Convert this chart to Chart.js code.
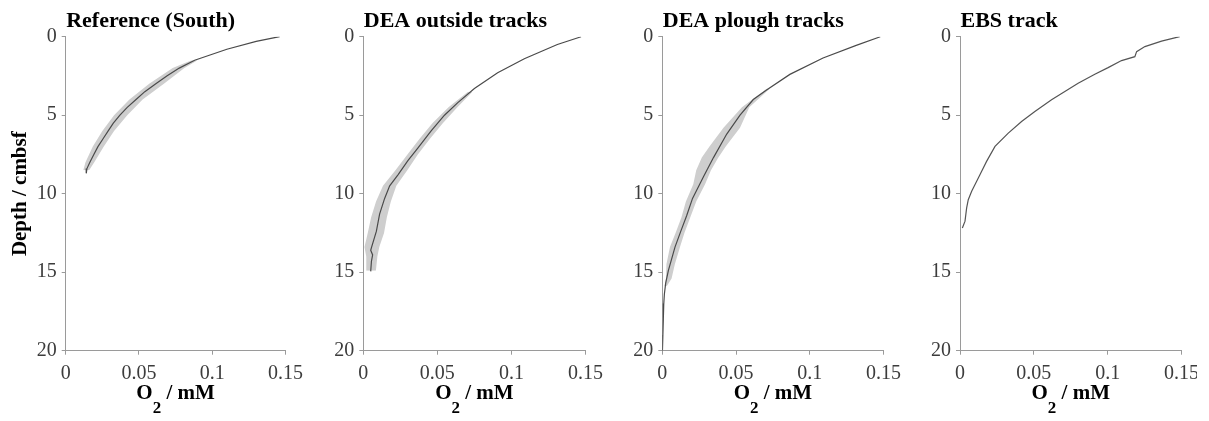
<!DOCTYPE html>
<html>
<head>
<meta charset="utf-8">
<script src="https://cdn.jsdelivr.net/npm/chart.js@4.4.1/dist/chart.umd.min.js"></script>
<style>
  html, body { margin: 0; padding: 0; background: #fff; }
  body { width: 1209px; height: 421px; position: relative; overflow: hidden; }
  .wrap { position: absolute; top: 0; height: 421px; overflow: hidden; }
  canvas { display: block; }
</style>
</head>
<body>
<div class="wrap" style="left:0px;width:310px"><canvas id="c1" width="310" height="421"></canvas></div>
<div class="wrap" style="left:300px;width:310px"><canvas id="c2" width="310" height="421"></canvas></div>
<div class="wrap" style="left:598px;width:310px"><canvas id="c3" width="310" height="421"></canvas></div>
<div class="wrap" style="left:896px;width:301px"><canvas id="c4" width="310" height="421"></canvas></div>
<script>
// ---------- DATA ----------
const panelTitles = ["Reference (South)", "DEA outside tracks", "DEA plough tracks", "EBS track"];
const xTickLabels = ["0", "0.05", "0.1", "0.15"];
const yTickLabels = ["0", "5", "10", "15", "20"];

// Reference (South)
const refDepth = [0, 0.3, 0.8, 1.5, 2.0, 2.5, 3.0, 3.5, 4.0, 4.5, 5.0, 5.5, 6.0, 6.5, 7.0, 7.5, 8.0, 8.4, 8.7];
const refO2    = [0.146, 0.130, 0.110, 0.088, 0.0775, 0.069, 0.0615, 0.054, 0.048, 0.042, 0.037, 0.0325, 0.029, 0.0255, 0.022, 0.0192, 0.0165, 0.0145, 0.014];
const refBandDepth = [1.5, 2.0, 3.0, 4.0, 5.0, 6.0, 7.0, 8.0, 8.5];
const refBandLo    = [0.086, 0.073, 0.057, 0.0435, 0.033, 0.025, 0.0185, 0.0135, 0.012];
const refBandHi    = [0.090, 0.081, 0.067, 0.0525, 0.042, 0.033, 0.026, 0.0195, 0.016];

// DEA outside tracks
const outDepth = [0, 0.5, 1.4, 2.3, 3.3, 4.2, 5.0, 6.0, 7.1, 7.9, 8.8, 9.5, 10.3, 11.3, 12.4, 13.4, 13.6, 13.9, 14.3, 14.95];
const outO2    = [0.147, 0.131, 0.1087, 0.0907, 0.075, 0.0638, 0.0548, 0.0458, 0.0368, 0.0301, 0.0234, 0.0178, 0.0144, 0.011, 0.0088, 0.0056, 0.005, 0.0063, 0.0055, 0.005];
const outBandDepth = [3.5, 4.5, 5.5, 6.5, 7.5, 8.5, 9.5, 10.5, 11.5, 12.5, 13.4, 14.0, 14.9];
const outBandLo    = [0.0707, 0.0575, 0.0468, 0.038, 0.0298, 0.0217, 0.0133, 0.0086, 0.0053, 0.003, 0.0008, 0.002, 0.002];
const outBandHi    = [0.0737, 0.0635, 0.0538, 0.045, 0.0368, 0.0297, 0.0223, 0.0186, 0.0159, 0.014, 0.0108, 0.0095, 0.0085];

// DEA plough tracks
const plDepth = [0, 0.55, 1.36, 2.4, 3.4, 4.0, 5.0, 6.2, 7.7, 8.9, 10.3, 11.4, 12.4, 13.4, 14.9, 15.7, 16.4, 17.0, 18.0, 19.0, 20.0];
const plO2    = [0.1478, 0.1315, 0.109, 0.0865, 0.0707, 0.0617, 0.0527, 0.0437, 0.0347, 0.028, 0.0205, 0.0165, 0.0125, 0.0086, 0.0041, 0.0023, 0.0014, 0.001, 0.0007, 0.0004, 0.0001];
const plBandDepth = [3.3, 4.5, 5.8, 7.0, 7.7, 8.5, 9.4, 10.5, 11.5, 12.5, 13.4, 14.5, 15.4, 15.9];
const plBandLo    = [0.071, 0.054, 0.0415, 0.032, 0.0268, 0.023, 0.021, 0.016, 0.013, 0.009, 0.0052, 0.0028, 0.0025, 0.0015];
const plBandHi    = [0.073, 0.059, 0.0527, 0.043, 0.038, 0.033, 0.029, 0.023, 0.019, 0.015, 0.012, 0.0085, 0.0063, 0.003];

// EBS track
const ebsDepth = [0, 0.28, 0.63, 0.95, 1.27, 1.52, 1.97, 2.39, 2.96, 3.49, 4.02, 4.76, 5.4, 6.14, 6.99, 7.94, 8.79, 9.85, 10.38, 10.9, 11.75, 12.18];
const ebsO2    = [0.1488, 0.1365, 0.1252, 0.1196, 0.1184, 0.1094, 0.1003, 0.0913, 0.08, 0.071, 0.062, 0.0507, 0.0417, 0.0327, 0.0237, 0.018, 0.0135, 0.0079, 0.0056, 0.0045, 0.0034, 0.0016];

// ---------- CHARTS ----------
const SERIF = "'Liberation Serif', 'Times New Roman', serif";
const pts = (d, v) => d.map((y, i) => ({ x: v[i], y: y }));

const textPlugin = {
  id: 'panelText',
  afterDraw(chart, args, opts) {
    const ctx = chart.ctx, a = chart.chartArea;
    ctx.save();
    ctx.fillStyle = '#000';
    ctx.textBaseline = 'alphabetic';
    ctx.textAlign = 'left';
    ctx.font = "bold 22px " + SERIF;
    ctx.fillText(opts.title, a.left + 0.5, 26.5);
    // x axis title: O2 / mM with subscript
    const big = "bold 21px " + SERIF, small = "bold 17px " + SERIF;
    ctx.font = big; const wO = ctx.measureText("O").width;
    ctx.font = small; const w2 = ctx.measureText("2").width;
    ctx.font = big; const wR = ctx.measureText(" / mM").width;
    const total = wO + w2 + wR;
    let x = (a.left + a.right) / 2 - total / 2;
    const base = 398.5;
    ctx.font = big; ctx.fillText("O", x, base); x += wO;
    ctx.font = small; ctx.fillText("2", x, base + 14.5); x += w2;
    ctx.font = big; ctx.fillText(" / mM", x, base);
    ctx.restore();
  }
};

function makePanel(id, title, yW, padR, mean, band, lineColor, showYTitle) {
  const datasets = [{
    data: mean,
    borderColor: lineColor,
    borderWidth: 1.2,
    pointRadius: 0,
    fill: false,
    tension: 0
  }];
  if (band) {
    datasets.push({
      data: band.lo, borderColor: 'rgba(0,0,0,0)', borderWidth: 0, pointRadius: 0, fill: false
    });
    datasets.push({
      data: band.hi, borderColor: 'rgba(0,0,0,0)', borderWidth: 0, pointRadius: 0,
      fill: 1, backgroundColor: '#cecece'
    });
  }
  const gridOpts = { display: true, drawOnChartArea: false, drawTicks: true, tickLength: 4, color: '#9a9a9a', lineWidth: 1 };
  return new Chart(document.getElementById(id), {
    type: 'line',
    data: { datasets },
    plugins: [textPlugin],
    options: {
      indexAxis: 'y',
      responsive: false,
      animation: false,
      devicePixelRatio: 1,
      layout: { padding: { left: 0, right: padR, top: 36.7, bottom: 30.3 } },
      plugins: {
        legend: { display: false },
        tooltip: { enabled: false },
        title: { display: false },
        panelText: { title: title }
      },
      scales: {
        x: {
          type: 'linear', position: 'bottom', min: 0, max: 0.15,
          afterFit(s) { s.height = 40; },
          afterBuildTicks(s) { s.ticks = xTickLabels.map(t => ({ value: parseFloat(t) })); },
          ticks: {
            autoSkip: false, maxRotation: 0, padding: 7, color: '#3c3c3c',
            font: { family: SERIF, size: 20 },
            callback: (v) => xTickLabels[Math.round(v / 0.05)]
          },
          grid: gridOpts,
          border: { display: true, color: '#9a9a9a', width: 1 }
        },
        y: {
          type: 'linear', position: 'left', min: 0, max: 20, reverse: true,
          afterFit(s) { s.width = yW; },
          afterBuildTicks(s) { s.ticks = yTickLabels.map(t => ({ value: parseFloat(t) })); },
          ticks: {
            autoSkip: false, padding: 5, color: '#3c3c3c',
            font: { family: SERIF, size: 20 },
            callback: (v) => yTickLabels[Math.round(v / 5)]
          },
          title: {
            display: showYTitle, text: 'Depth / cmbsf', color: '#000',
            font: { family: SERIF, size: 21, weight: 'bold' },
            padding: { top: 8.4, bottom: 0 }
          },
          grid: gridOpts,
          border: { display: true, color: '#9a9a9a', width: 1 }
        }
      }
    }
  });
}

makePanel('c1', panelTitles[0], 65.7, 22.7, pts(refDepth, refO2),
  { lo: pts(refBandDepth, refBandLo), hi: pts(refBandDepth, refBandHi) }, '#4a4a4a', true);
makePanel('c2', panelTitles[1], 63.3, 24, pts(outDepth, outO2),
  { lo: pts(outBandDepth, outBandLo), hi: pts(outBandDepth, outBandHi) }, '#4a4a4a', false);
makePanel('c3', panelTitles[2], 64.3, 23.7, pts(plDepth, plO2),
  { lo: pts(plBandDepth, plBandLo), hi: pts(plBandDepth, plBandHi) }, '#4a4a4a', false);
makePanel('c4', panelTitles[3], 64, 24.3, pts(ebsDepth, ebsO2), null, '#555555', false);
</script>
</body>
</html>
